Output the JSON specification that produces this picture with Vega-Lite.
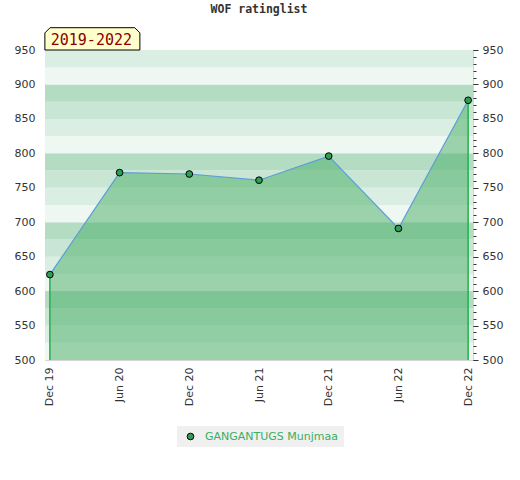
{
  "$schema": "https://vega.github.io/schema/vega-lite/v6.json",
  "autosize": {"type": "none"},
  "padding": {"left": 45, "top": 50, "right": 47, "bottom": 120},
  "width": 428,
  "height": 310,
  "background": "white",
  "title": {"text": "WOF ratinglist", "font": "DejaVu Sans Mono", "fontWeight": "bold", "fontSize": 11.5, "color": "#333333", "frame": "group", "anchor": "middle", "offset": 10},
  "config": {
    "view": {"stroke": "#d4d4d4", "strokeWidth": 1},
    "axis": {"domain": false, "grid": false, "labelFont": "DejaVu Sans", "labelFontSize": 11, "labelColor": "#333333"},
    "axisX": {"labelAngle": 270, "ticks": false, "tickSize": 0, "labelPadding": 7}
  },
  "datasets": {
    "ratings": [
      {"d": "Dec 19", "rating": 624, "player": "GANGANTUGS Munjmaa"},
      {"d": "Jun 20", "rating": 772, "player": "GANGANTUGS Munjmaa"},
      {"d": "Dec 20", "rating": 770, "player": "GANGANTUGS Munjmaa"},
      {"d": "Jun 21", "rating": 761, "player": "GANGANTUGS Munjmaa"},
      {"d": "Dec 21", "rating": 796, "player": "GANGANTUGS Munjmaa"},
      {"d": "Jun 22", "rating": 691, "player": "GANGANTUGS Munjmaa"},
      {"d": "Dec 22", "rating": 877, "player": "GANGANTUGS Munjmaa"}
    ],
    "bands": [
      {"lo": 500, "hi": 525, "shade": "a"},
      {"lo": 525, "hi": 550, "shade": "b"},
      {"lo": 550, "hi": 575, "shade": "c"},
      {"lo": 575, "hi": 600, "shade": "d"},
      {"lo": 600, "hi": 625, "shade": "a"},
      {"lo": 625, "hi": 650, "shade": "b"},
      {"lo": 650, "hi": 675, "shade": "c"},
      {"lo": 675, "hi": 700, "shade": "d"},
      {"lo": 700, "hi": 725, "shade": "a"},
      {"lo": 725, "hi": 750, "shade": "b"},
      {"lo": 750, "hi": 775, "shade": "c"},
      {"lo": 775, "hi": 800, "shade": "d"},
      {"lo": 800, "hi": 825, "shade": "a"},
      {"lo": 825, "hi": 850, "shade": "b"},
      {"lo": 850, "hi": 875, "shade": "c"},
      {"lo": 875, "hi": 900, "shade": "d"},
      {"lo": 900, "hi": 925, "shade": "a"},
      {"lo": 925, "hi": 950, "shade": "b"}
    ],
    "period": [{"label": "2019-2022"}]
  },
  "layer": [
    {
      "data": {"name": "bands"},
      "mark": {"type": "rect"},
      "encoding": {
        "y": {"field": "lo", "type": "quantitative", "title": null, "scale": {"domain": [500, 950], "nice": false, "zero": false},
              "axis": {"orient": "left", "values": [500, 550, 600, 650, 700, 750, 800, 850, 900, 950], "ticks": false, "tickSize": 0, "labelPadding": 10}},
        "y2": {"field": "hi"},
        "color": {"field": "shade", "type": "nominal", "scale": {"domain": ["a", "b", "c", "d"], "range": ["#eef7f1", "#dbeee3", "#c8e6d3", "#b3dcc3"]}, "legend": null}
      }
    },
    {
      "data": {"name": "ratings"},
      "mark": {"type": "area", "color": "#47ae66", "opacity": 0.5},
      "encoding": {
        "x": {"field": "d", "type": "ordinal", "title": null, "sort": null, "scale": {"type": "point", "domain": ["Dec 19", "Jun 20", "Dec 20", "Jun 21", "Dec 21", "Jun 22", "Dec 22"], "padding": 0.07}},
        "y": {"field": "rating", "type": "quantitative", "axis": null},
        "y2": {"datum": 500}
      }
    },
    {
      "data": {"name": "ratings"},
      "transform": [{"filter": "datum.d == 'Dec 19' || datum.d == 'Dec 22'"}],
      "mark": {"type": "rule", "stroke": "#22b14c", "strokeWidth": 1.5, "opacity": 1},
      "encoding": {
        "x": {"field": "d", "type": "ordinal", "title": null},
        "y": {"field": "rating", "type": "quantitative", "axis": null},
        "y2": {"datum": 500}
      }
    },
    {
      "data": {"name": "ratings"},
      "mark": {"type": "line", "color": "#5a9fd8", "strokeWidth": 1.2},
      "encoding": {
        "x": {"field": "d", "type": "ordinal", "title": null},
        "y": {"field": "rating", "type": "quantitative", "title": null,
              "axis": {"orient": "right", "values": [500, 510, 520, 530, 540, 550, 560, 570, 580, 590, 600, 610, 620, 630, 640, 650, 660, 670, 680, 690, 700, 710, 720, 730, 740, 750, 760, 770, 780, 790, 800, 810, 820, 830, 840, 850, 860, 870, 880, 890, 900, 910, 920, 930, 940, 950], "labels": false, "ticks": true, "tickSize": 3, "tickColor": "#333333"}}
      }
    },
    {
      "data": {"name": "ratings"},
      "mark": {"type": "point", "filled": true, "stroke": "black", "strokeWidth": 1, "size": 45, "opacity": 1},
      "encoding": {
        "x": {"field": "d", "type": "ordinal", "title": null},
        "y": {"field": "rating", "type": "quantitative", "title": null,
              "axis": {"orient": "right", "values": [500, 550, 600, 650, 700, 750, 800, 850, 900, 950], "ticks": true, "tickSize": 5, "tickColor": "#333333", "labelPadding": 4}},
        "color": {"field": "player", "type": "nominal", "scale": {"range": ["#2e9e56"]},
                  "legend": {"orient": "none", "legendX": 132, "legendY": 376, "title": null, "fillColor": "#f0f0f0", "padding": 5, "symbolOffset": 3,
                             "labelFont": "DejaVu Sans", "labelFontSize": 11, "labelColor": "#3cae5e", "labelOffset": 9,
                             "symbolType": "circle", "symbolSize": 45, "symbolStrokeColor": "black", "symbolStrokeWidth": 1}}
      }
    },
    {
      "data": {"name": "period"},
      "mark": {"type": "point", "shape": "M-1,0.235L-1,-0.125L-0.89,-0.235L0.89,-0.235L1,-0.125L1,0.235Z", "size": 9025, "filled": true, "fill": "#ffffcc", "stroke": "black", "strokeWidth": 1, "opacity": 1, "xOffset": 42.5, "yOffset": -11.15},
      "encoding": {
        "x": {"datum": "Dec 19", "type": "ordinal", "title": null},
        "y": {"datum": 950, "type": "quantitative", "axis": null}
      }
    },
    {
      "data": {"name": "period"},
      "mark": {"type": "text", "font": "DejaVu Sans Mono", "fontSize": 15, "color": "#8b0000", "align": "center", "baseline": "middle", "dx": 41.5, "dy": -10.5},
      "encoding": {
        "x": {"datum": "Dec 19", "type": "ordinal", "title": null},
        "y": {"datum": 950, "type": "quantitative", "axis": null},
        "text": {"field": "label"}
      }
    }
  ],
  "resolve": {"scale": {"color": "independent"}, "axis": {"y": "independent"}}
}
